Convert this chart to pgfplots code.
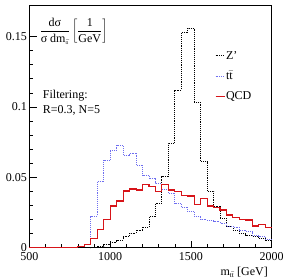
\documentclass[border=0pt]{standalone}
\usepackage{fontspec}
\setmainfont{Liberation Serif}
\usepackage{pgfplots}
\pgfplotsset{compat=1.18}
\usetikzlibrary{calc}
\definecolor{qcdred}{RGB}{215,20,25}
\definecolor{ttblue}{RGB}{110,110,240}

\pgfplotstableread{
x y
500 0
880 0.0003
920 0.0012
960 0.0024
1000 0.0035
1040 0.0055
1080 0.0078
1120 0.0102
1160 0.0126
1200 0.0145
1240 0.022
1280 0.0315
1320 0.0504
1360 0.0741
1400 0.112
1440 0.1527
1480 0.1558
1520 0.103
1560 0.061
1600 0.0403
1640 0.0296
1680 0.0209
1720 0.0154
1760 0.0126
1800 0.0102
1840 0.009
1880 0.0078
1920 0.0067
1960 0.005
2000 0.005
}\zprime

\pgfplotstableread{
x y
500 0
760 0.0005
800 0.001
840 0.0025
880 0.0225
920 0.047
960 0.062
1000 0.069
1040 0.0727
1080 0.0658
1120 0.067
1160 0.0587
1200 0.0516
1240 0.049
1280 0.0457
1320 0.0415
1360 0.0386
1400 0.0315
1440 0.0287
1480 0.0256
1520 0.0225
1560 0.020
1600 0.0197
1640 0.0185
1680 0.0173
1720 0.0154
1760 0.0145
1800 0.0126
1840 0.0114
1880 0.009
1920 0.0078
1960 0.006
2000 0.006
}\ttbar

\pgfplotstableread{
x y
500 0
760 0.0003
800 0.0008
840 0.002
880 0.0067
920 0.013
960 0.020
1000 0.0296
1040 0.0332
1080 0.0403
1120 0.0417
1160 0.041
1200 0.045
1240 0.0433
1280 0.0398
1320 0.045
1360 0.041
1400 0.0398
1440 0.0374
1480 0.0367
1520 0.031
1560 0.035
1600 0.0296
1640 0.0287
1680 0.0268
1720 0.0232
1760 0.0216
1800 0.0202
1840 0.0197
1880 0.0154
1920 0.0163
1960 0.0145
2000 0.0145
}\qcd

\begin{document}
\begin{tikzpicture}[font=\fontsize{12bp}{14bp}\selectfont]
\begin{axis}[
  name=ax,
  scale only axis,
  clip=false,
  width=242.2bp, height=242.7bp,
  xmin=500, xmax=2000, ymin=0, ymax=0.1724,
  xtick={500,1000,1500,2000}, xticklabels={500,1000,1500,2000},
  ytick={0,0.05,0.1,0.15}, yticklabels={0,0.05,0.1,0.15},
  minor x tick num=4, minor y tick num=4,
  tick align=inside, xtick pos=bottom, ytick pos=left,
  major tick length=7bp, minor tick length=3.5bp,
  axis line style={line width=0.9pt},
  tick style={black, line width=0.6pt},
  xticklabel style={yshift=-1bp},
  yticklabel style={xshift=1bp},
  legend cell align=left,
  legend style={at={(0.765,0.815)}, anchor=north west, draw=none, fill=none,
    inner sep=0pt, row sep=8.5bp, nodes={inner sep=1bp}},
  legend image code/.code={\draw[#1] (0bp,0bp) -- (9bp,0bp);},
]
\addplot[const plot, black, densely dotted, line width=0.9pt] table[x=x,y=y] {\zprime};
\addlegendentry{Z'}
\addplot[const plot, ttblue, densely dotted, line width=0.9pt] table[x=x,y=y] {\ttbar};
\addlegendentry{t$\bar{\mbox{t}}$}
\addplot[const plot, qcdred, line width=1.1pt] table[x=x,y=y] {\qcd};
\addlegendentry{QCD}

\node[anchor=west, inner sep=0pt] at (axis cs:582,0.1077) {Filtering:};
\node[anchor=west, inner sep=0pt] at (axis cs:582,0.0972) {R=0.3, N=5};
\node[inner sep=0pt] at (rel axis cs:0.182,0.893)
  {$\displaystyle\frac{\mbox{dσ}}{\mbox{σ dm}_{\mbox{\tiny t}\bar{\mbox{\tiny t}}}}\left[\frac{\mbox{1}}{\mbox{GeV}}\right]$};
\node[anchor=north east, inner sep=0pt] at (rel axis cs:0.985,0) [yshift=-19bp]
  {m$_{\mbox{\scriptsize t}\bar{\mbox{\scriptsize t}}}$ [GeV]};
\end{axis}
\pgfresetboundingbox
\path ($(ax.south west)+(-29.5bp,-30.3bp)$) rectangle ($(ax.north east)+(11.3bp,5bp)$);
\end{tikzpicture}
\end{document}
